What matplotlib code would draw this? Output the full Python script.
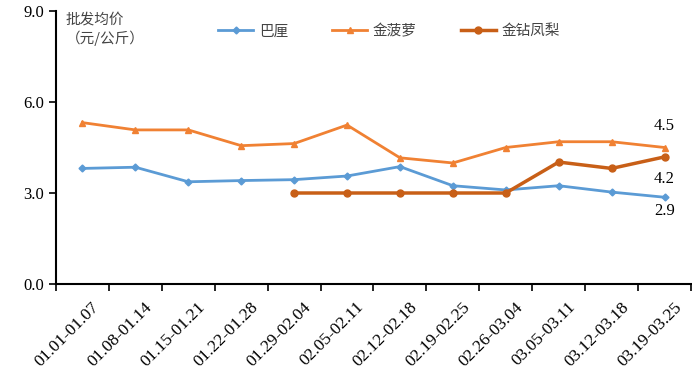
import numpy as np
import matplotlib
matplotlib.use("Agg")
import matplotlib.pyplot as plt

plt.rcParams['font.family'] = ['Liberation Serif', 'Noto Sans CJK SC']

weeks = ["01.01-01.07", "01.08-01.14", "01.15-01.21", "01.22-01.28",
         "01.29-02.04", "02.05-02.11", "02.12-02.18", "02.19-02.25",
         "02.26-03.04", "03.05-03.11", "03.12-03.18", "03.19-03.25"]
bali = [3.81, 3.85, 3.37, 3.41, 3.44, 3.56, 3.87, 3.24, 3.10, 3.24, 3.03, 2.86]
jinboluo = [5.32, 5.08, 5.08, 4.56, 4.63, 5.24, 4.16, 3.99, 4.50, 4.69, 4.69, 4.50]
jinzuan = [np.nan, np.nan, np.nan, np.nan, 3.0, 3.0, 3.0, 3.0, 3.0, 4.02, 3.81, 4.19]

c_blue = '#5B9BD5'
c_orange = '#F08133'
c_dark = '#C85F17'
cjk = ['Noto Sans CJK SC', 'DejaVu Sans']

fig = plt.figure(figsize=(6.92, 3.73), dpi=100)
ax = fig.add_axes([56/692, 89/373, 635/692, 273/373])

x = np.arange(len(weeks))
ax.plot(x, bali, color=c_blue, lw=2, marker='D', ms=3.5, label='巴厘')
ax.plot(x, jinboluo, color=c_orange, lw=2, marker='^', ms=5, label='金菠萝')
ax.plot(x, jinzuan, color=c_dark, lw=2.5, marker='o', ms=5, label='金钻凤梨')

ax.set_xlim(-0.5, len(weeks) - 0.5)
ax.set_ylim(0, 9)
ax.set_yticks([0, 3, 6, 9])
ax.set_yticklabels(['0.0', '3.0', '6.0', '9.0'], fontsize=12)
ax.set_xticks(np.arange(len(weeks) + 1) - 0.5)
ax.set_xticklabels([])
ax.tick_params(axis='both', direction='out', length=5, width=1.2, colors='black')
for i, w in enumerate(weeks):
    ax.text(i + 0.17, -0.5, w, rotation=45, ha='right', va='top',
            rotation_mode='anchor', fontsize=12.5)

for s in ['top', 'right']:
    ax.spines[s].set_visible(False)
for s in ['left', 'bottom']:
    ax.spines[s].set_linewidth(1.5)

# end labels
ax.text(11, 4.5 + 0.45, '4.5', ha='center', va='bottom', fontsize=12)
ax.text(11, 4.19 - 0.45, '4.2', ha='center', va='top', fontsize=12)
ax.text(11, 2.86 - 0.2, '2.9', ha='center', va='top', fontsize=12)

fig.text(66/692, 1 - 13/373, '批发均价\n（元/公斤）', family=cjk, fontsize=10.5,
         color='#444444', va='top', ha='left', linespacing=1.3)

leg = ax.legend(loc='upper left', bbox_to_anchor=(0.235, 1.0), ncol=3,
                frameon=False, prop={'family': cjk, 'size': 10.5},
                columnspacing=3.0, handlelength=2.4, handletextpad=0.4)
for t in leg.get_texts():
    t.set_color('#444444')

fig.savefig('out.png', dpi=100)
